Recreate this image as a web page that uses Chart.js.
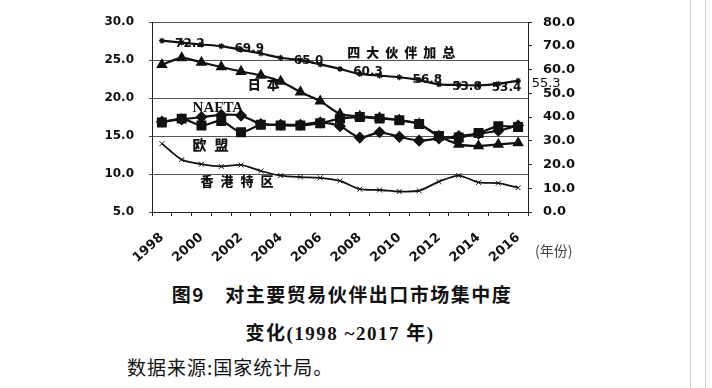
<!DOCTYPE html>
<html>
<head>
<meta charset="utf-8">
<script src="https://cdn.jsdelivr.net/npm/chart.js@4.4.0/dist/chart.umd.min.js"></script>
<style>
  body { margin: 0; background: #fff; width: 712px; height: 388px; overflow: hidden; position: relative; }
  #wrap { position: absolute; left: 0; top: 0; width: 712px; height: 270px; }
  .cap { position: absolute; white-space: nowrap; color: #111; font-family: "Noto Sans CJK SC", sans-serif; }
  .edge { position: absolute; top: 0; width: 1px; height: 388px; background: #d4d4d4; }
</style>
</head>
<body>
<div id="wrap"><canvas id="chart" width="712" height="270"></canvas></div>
<div class="cap" style="left:535px;top:240px;font-size:14px;color:#444;">(年份)</div>
<div class="cap" style="left:0;width:684px;text-align:center;top:280px;font-size:19px;font-weight:700;letter-spacing:1.5px;">图9　对主要贸易伙伴出口市场集中度</div>
<div class="cap" style="left:0;width:680px;text-align:center;top:318px;font-size:19px;font-weight:700;letter-spacing:1.5px;font-family:'Liberation Serif','Noto Sans CJK SC',serif;">变化(1998 ~2017 年)</div>
<div class="cap" style="left:127px;top:353px;font-size:19px;letter-spacing:1px;">数据来源:国家统计局。</div>
<div class="edge" style="left:690px;"></div>
<div class="edge" style="left:705px;"></div>
<script>
const years = ['1998', '1999', '2000', '2001', '2002', '2003', '2004', '2005', '2006', '2007',
               '2008', '2009', '2010', '2011', '2012', '2013', '2014', '2015', '2016'];
const shownYears = ['1998', '2000', '2002', '2004', '2006', '2008', '2010', '2012', '2014', '2016'];

// right axis: sum of the four partners
const totalShare = [72.2, 71.4, 70.6, 69.9, 68.4, 66.8, 65.0, 64.0, 62.2, 60.3,
                    58.2, 57.5, 56.8, 55.6, 53.8, 53.6, 53.4, 54.0, 55.3];
// left axis
const japanShare = [24.4, 25.3, 24.7, 24.1, 23.5, 23.0, 22.2, 20.8, 19.6, 17.9,
                    17.6, 17.4, 17.1, 16.6, 15.0, 13.9, 13.7, 13.9, 14.1];
const euShare    = [16.8, 17.3, 16.4, 17.0, 15.5, 16.5, 16.4, 16.4, 16.7, 17.3,
                    17.5, 17.3, 17.1, 16.6, 15.0, 14.8, 15.4, 16.3, 16.2];
const naftaShare = [16.9, 17.2, 17.5, 17.8, 17.7, 16.6, 16.5, 16.5, 16.8, 16.3,
                    14.8, 15.5, 14.9, 14.4, 14.7, 15.0, 15.3, 15.7, 16.4];
const hkShare    = [14.0, 11.9, 11.3, 11.0, 11.2, 10.4, 9.8, 9.6, 9.5, 9.1,
                    8.0, 7.9, 7.7, 7.8, 9.0, 9.8, 8.9, 8.8, 8.2];

const leftTicks = [5, 10, 15, 20, 25, 30];
const rightTicks = [0, 10, 20, 30, 40, 50, 60, 70, 80];

// which points of the total line carry a value label
const labelledYears = ['1998', '2001', '2004', '2007', '2010', '2012', '2014', '2016'];

const tickFont = { family: 'DejaVu Sans', weight: 'bold', size: 12 };

// series names written inside the plot (x = category index, y = left-axis value)
const seriesNotes = [
  { text: '四大伙伴加总', x: 12.1, y: 26.1, size: 13, gap: 6 },
  { text: '日本', x: 5.15, y: 21.9, size: 13, gap: 6 },
  { text: 'NAFTA', x: 2.83, y: 18.65, size: 15, gap: 0, latin: true },
  { text: '欧盟', x: 2.45, y: 13.85, size: 14, gap: 8 },
  { text: '香港特区', x: 3.8, y: 9.05, size: 13, gap: 7 }
];

const notesPlugin = {
  id: 'notes',
  afterDatasetsDraw(chart) {
    const ctx = chart.ctx;
    const xs = chart.scales.x, ys = chart.scales.y;
    ctx.save();
    ctx.fillStyle = '#111';
    ctx.textBaseline = 'middle';
    seriesNotes.forEach(n => {
      const cx = xs.getPixelForValue(n.x);
      const cy = ys.getPixelForValue(n.y);
      ctx.font = n.latin ? 'bold ' + n.size + 'px "Liberation Serif"'
                         : '900 ' + n.size + 'px "Noto Sans CJK SC"';
      const chars = n.latin ? [n.text] : Array.from(n.text);
      const widths = chars.map(c => ctx.measureText(c).width);
      const total = widths.reduce((a, b) => a + b, 0) + n.gap * (chars.length - 1);
      let px = cx - total / 2;
      ctx.textAlign = 'left';
      chars.forEach((c, i) => {
        ctx.fillText(c, px, cy);
        px += widths[i] + n.gap;
      });
    });

    // value labels on the total line
    const meta = chart.getDatasetMeta(0);
    ctx.textAlign = 'center';
    labelledYears.forEach((yr, k) => {
      const i = years.indexOf(yr);
      const p = meta.data[i];
      const last = k === labelledYears.length - 1;
      ctx.font = last ? '13px "DejaVu Sans"' : 'bold 12px "DejaVu Sans"';
      ctx.fillText(totalShare[i].toFixed(1), p.x + 28, p.y + 3);
    });
    ctx.restore();
  }
};

const lineBase = {
  borderColor: '#111',
  backgroundColor: '#111',
  pointBorderColor: '#111',
  pointBackgroundColor: '#111',
  borderWidth: 2.2,
  tension: 0.25
};

new Chart(document.getElementById('chart'), {
  type: 'line',
  data: {
    labels: years,
    datasets: [
      Object.assign({}, lineBase, { label: '四大伙伴加总', data: totalShare, yAxisID: 'y1',
        pointStyle: 'star', pointRadius: 3, pointBorderWidth: 1.2 }),
      Object.assign({}, lineBase, { label: '日本', data: japanShare, yAxisID: 'y',
        pointStyle: 'triangle', pointRadius: 4.5 }),
      Object.assign({}, lineBase, { label: '欧盟', data: euShare, yAxisID: 'y',
        pointStyle: 'rect', pointRadius: 5.5 }),
      Object.assign({}, lineBase, { label: 'NAFTA', data: naftaShare, yAxisID: 'y',
        pointStyle: 'rectRot', pointRadius: 4.5 }),
      Object.assign({}, lineBase, { label: '香港特区', data: hkShare, yAxisID: 'y',
        borderWidth: 1.8, pointStyle: 'crossRot', pointRadius: 3.5, pointBorderWidth: 1 })
    ]
  },
  options: {
    responsive: false,
    animation: false,
    layout: { padding: { top: 20, left: 0, right: 0, bottom: 0 } },
    plugins: { legend: { display: false }, tooltip: { enabled: false } },
    scales: {
      x: {
        offset: true,
        grid: { offset: true, drawOnChartArea: false, tickLength: 4, color: '#222' },
        border: { color: '#222', width: 1 },
        ticks: {
          autoSkip: false,
          maxRotation: 42,
          minRotation: 42,
          padding: 14,
          color: '#111',
          font: { family: 'DejaVu Sans', weight: 'bold', size: 13 },
          callback: (v, i) => shownYears.includes(years[i]) ? years[i] : ''
        },
        afterFit: s => { s.height = 58; }
      },
      y: {
        position: 'left',
        min: 5,
        max: 30,
        afterBuildTicks: s => { s.ticks = leftTicks.map(v => ({ value: v })); },
        grid: { color: '#555', tickLength: 3 },
        border: { color: '#222', width: 1 },
        ticks: { padding: 15, color: '#111', font: tickFont, callback: v => v.toFixed(1) },
        afterFit: s => { s.width = 152; }
      },
      y1: {
        position: 'right',
        min: 0,
        max: 80,
        afterBuildTicks: s => { s.ticks = rightTicks.map(v => ({ value: v })); },
        grid: { drawOnChartArea: false, tickLength: 4, color: '#222' },
        border: { color: '#222', width: 1 },
        ticks: { padding: 11, color: '#111', font: { family: 'DejaVu Sans', weight: 'bold', size: 13 },
                 callback: v => v.toFixed(1) },
        afterFit: s => { s.width = 184; }
      }
    }
  },
  plugins: [notesPlugin]
});
</script>
</body>
</html>
